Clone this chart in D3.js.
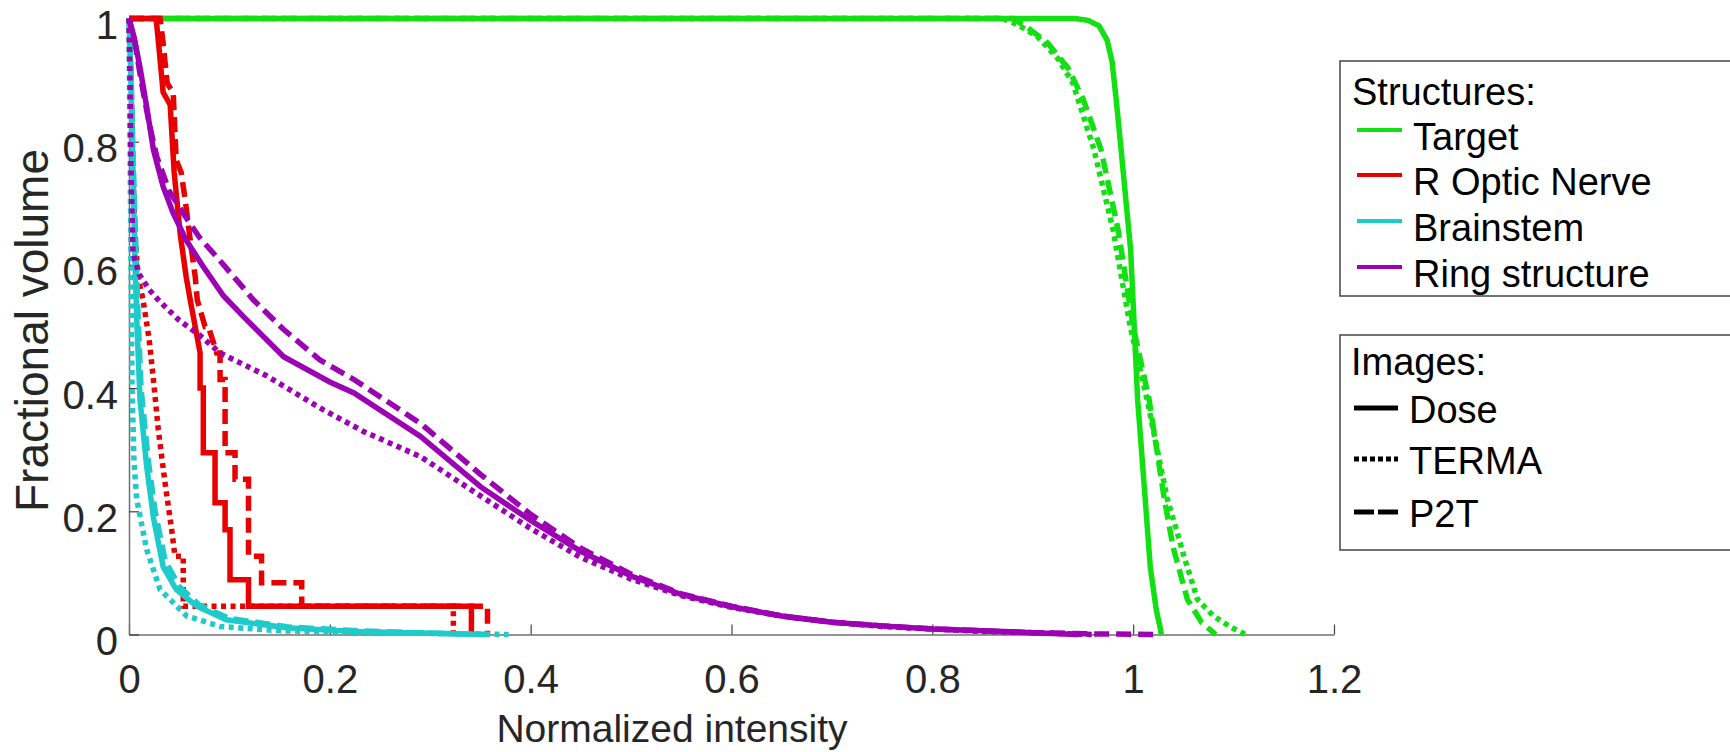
<!DOCTYPE html>
<html>
<head>
<meta charset="utf-8">
<script src="https://cdn.jsdelivr.net/npm/d3@7"></script>
<style>
    body { margin: 0; background: #fff; }
    svg { font-family: "Liberation Sans", Arial, sans-serif; }
    .tick text { fill: #262626; }
</style>
</head>
<body>
<svg id="chart" width="1730" height="752"></svg>
<script>
// tick values and legend text
let xTicks = [0, 0.2, 0.4, 0.6, 0.8, 1, 1.2];
let yTicks = [0, 0.2, 0.4, 0.6, 0.8, 1];
let structures = ["Target", "R Optic Nerve", "Brainstem", "Ring structure"];
let images = ["Dose", "TERMA", "P2T"];

// DVH curves, [normalized intensity, fractional volume]
let targetDose = [[0,1],[0.942,1],[0.955,0.997],[0.966,0.988],[0.974,0.965],[0.979,0.93],[0.983,0.87],
    [0.988,0.787],[0.9975,0.624],[1.0045,0.38],[1.012,0.22],[1.017,0.11],[1.023,0.04],[1.027,0.01],[1.028,0]];
let targetTerma = [[0,1],[0.87,1],[0.885,0.99],[0.905,0.97],[0.925,0.935],[0.94,0.895],[0.961,0.787],
    [0.98,0.657],[0.997,0.5],[1.014,0.38],[1.034,0.22],[1.044,0.165],[1.05,0.13],[1.064,0.057],
    [1.08,0.03],[1.097,0.012],[1.112,0]];
let targetP2T = [[0,1],[0.88,1],[0.895,0.985],[0.915,0.96],[0.935,0.92],[0.95,0.87],[0.968,0.787],
    [0.985,0.657],[1.0,0.5],[1.016,0.38],[1.031,0.22],[1.04,0.14],[1.054,0.057],[1.068,0.02],[1.082,0]];

let nerveDose = [[0,1],[0.027,1],[0.03,0.95],[0.034,0.88],[0.041,0.86],[0.045,0.75],[0.051,0.65],
    [0.057,0.58],[0.061,0.543],[0.0708,0.457],[0.0708,0.40],[0.074,0.40],[0.074,0.295],[0.0857,0.295],
    [0.0857,0.214],[0.0957,0.214],[0.0957,0.17],[0.1006,0.17],[0.1006,0.089],[0.119,0.089],
    [0.119,0.046],[0.341,0.046],[0.341,0]];
let nerveTerma = [[0,1],[0.002,0.9],[0.004,0.75],[0.006,0.65],[0.009,0.58],[0.014,0.543],[0.02,0.48],
    [0.0243,0.414],[0.0292,0.332],[0.0359,0.246],[0.0425,0.17],[0.0458,0.127],[0.054,0.127],
    [0.054,0.046],[0.323,0.046],[0.323,0]];
let nerveP2T = [[0,1],[0.031,1],[0.034,0.96],[0.038,0.895],[0.044,0.88],[0.047,0.77],[0.052,0.75],
    [0.056,0.705],[0.061,0.64],[0.066,0.58],[0.068,0.543],[0.0757,0.5],[0.079,0.5],[0.0874,0.457],
    [0.0907,0.457],[0.0907,0.414],[0.0957,0.414],[0.0957,0.295],[0.1056,0.295],[0.1056,0.252],
    [0.119,0.252],[0.119,0.127],[0.132,0.127],[0.132,0.084],[0.172,0.084],[0.172,0.046],
    [0.357,0.046],[0.357,0]];

let brainDose = [[0,1],[0.002,0.9],[0.004,0.75],[0.006,0.6],[0.008,0.5],[0.011,0.38],[0.0176,0.273],
    [0.0243,0.19],[0.034,0.11],[0.047,0.073],[0.0674,0.046],[0.097,0.024],[0.157,0.011],
    [0.224,0.005],[0.3,0.002],[0.357,0]];
let brainTerma = [[0,1],[0.001,0.8],[0.002,0.6],[0.003,0.4],[0.005,0.28],[0.0076,0.22],[0.0176,0.138],
    [0.0309,0.073],[0.0575,0.03],[0.091,0.013],[0.15,0.006],[0.25,0.003],[0.378,0]];
let brainP2T = [[0,1],[0.002,0.92],[0.004,0.78],[0.007,0.62],[0.009,0.52],[0.012,0.4],[0.019,0.285],
    [0.026,0.2],[0.036,0.12],[0.05,0.078],[0.07,0.048],[0.1,0.026],[0.16,0.012],[0.23,0.006],
    [0.3,0.002],[0.355,0]];

let ringDose = [[0,1],[0.005,0.97],[0.011,0.92],[0.0176,0.857],[0.0243,0.787],[0.034,0.727],
    [0.044,0.684],[0.057,0.64],[0.074,0.597],[0.094,0.55],[0.114,0.516],[0.154,0.451],[0.2,0.41],
    [0.224,0.392],[0.29,0.322],[0.35,0.24],[0.4,0.185],[0.45,0.135],[0.5,0.095],[0.55,0.065],
    [0.6,0.045],[0.65,0.03],[0.7,0.02],[0.75,0.014],[0.8,0.009],[0.85,0.006],[0.9,0.003],[0.945,0]];
let ringTerma = [[0,1],[0.001,0.9],[0.002,0.75],[0.004,0.62],[0.01,0.585],[0.02,0.56],[0.031,0.54],
    [0.05,0.51],[0.071,0.485],[0.0907,0.457],[0.137,0.42],[0.19,0.368],[0.233,0.33],[0.29,0.289],
    [0.35,0.225],[0.4,0.172],[0.45,0.125],[0.5,0.09],[0.55,0.063],[0.6,0.044],[0.65,0.03],
    [0.7,0.02],[0.75,0.013],[0.8,0.009],[0.85,0.005],[0.9,0.003],[0.96,0]];
let ringP2T = [[0,1],[0.006,0.96],[0.012,0.9],[0.02,0.83],[0.0276,0.776],[0.04,0.72],[0.054,0.684],
    [0.07,0.645],[0.09,0.608],[0.11,0.57],[0.124,0.543],[0.154,0.495],[0.19,0.446],[0.224,0.414],
    [0.29,0.343],[0.35,0.26],[0.4,0.195],[0.45,0.14],[0.5,0.098],[0.55,0.066],[0.6,0.046],
    [0.65,0.03],[0.7,0.02],[0.75,0.014],[0.8,0.009],[0.85,0.006],[0.9,0.003],[0.96,0.001],[1.027,0]];

// styling
let colors = {"Target": "#12e012", "R Optic Nerve": "#e80000", "Brainstem": "#1fcaca", "Ring structure": "#9c02b4"};
let dashes = {"Dose": null, "TERMA": "5,4.5", "P2T": "15,7"};

let curves = [
    {s: "Target", img: "Dose", data: targetDose},
    {s: "Target", img: "TERMA", data: targetTerma},
    {s: "Target", img: "P2T", data: targetP2T},
    {s: "R Optic Nerve", img: "Dose", data: nerveDose},
    {s: "R Optic Nerve", img: "TERMA", data: nerveTerma},
    {s: "R Optic Nerve", img: "P2T", data: nerveP2T},
    {s: "Brainstem", img: "Dose", data: brainDose},
    {s: "Brainstem", img: "TERMA", data: brainTerma},
    {s: "Brainstem", img: "P2T", data: brainP2T},
    {s: "Ring structure", img: "Dose", data: ringDose},
    {s: "Ring structure", img: "TERMA", data: ringTerma},
    {s: "Ring structure", img: "P2T", data: ringP2T}
];

let svg = d3.select("#chart");

let x = d3.scaleLinear().domain([0, 1.2]).range([129, 1334]);
let y = d3.scaleLinear().domain([0, 1]).range([634.5, 18.5]);

let fmt = d => d3.format("~g")(d);

// axes, MATLAB style ticks pointing inward
let xAxis = svg.append("g")
    .attr("transform", "translate(0," + y(0) + ")")
    .call(d3.axisBottom(x).tickValues(xTicks).tickFormat(fmt).tickSizeInner(-10).tickSizeOuter(0).tickPadding(30));
let yAxis = svg.append("g")
    .attr("transform", "translate(" + x(0) + ",0)")
    .call(d3.axisLeft(y).tickValues(yTicks).tickFormat(fmt).tickSizeInner(-10).tickSizeOuter(0).tickPadding(11));

[xAxis, yAxis].forEach(a => {
    a.select(".domain").attr("stroke", "#707070").attr("stroke-width", 1.5);
    a.selectAll(".tick line").attr("stroke", "#404040").attr("stroke-width", 1.2);
    a.selectAll(".tick text").attr("font-size", 40).attr("font-family", null);
});
yAxis.selectAll(".tick text").attr("dy", "0.5em");

// the curves
let line = d3.line().x(d => x(d[0])).y(d => y(d[1]));

svg.append("g").selectAll("path")
    .data(curves)
    .enter()
    .append("path")
    .attr("d", d => line(d.data))
    .attr("fill", "none")
    .attr("stroke", d => colors[d.s])
    .attr("stroke-width", 5.5)
    .attr("stroke-dasharray", d => dashes[d.img]);

// axis labels
svg.append("text")
    .attr("x", 672).attr("y", 742)
    .attr("text-anchor", "middle")
    .attr("font-size", 39)
    .attr("fill", "#262626")
    .text("Normalized intensity");

svg.append("text")
    .attr("transform", "translate(48," + (y(0.5) + 4) + ") rotate(-90)")
    .attr("text-anchor", "middle")
    .attr("font-size", 46)
    .attr("fill", "#262626")
    .text("Fractional volume");

// legend boxes
let legend = svg.append("g");

legend.append("rect")
    .attr("x", 1340).attr("y", 61).attr("width", 420).attr("height", 235)
    .attr("fill", "#fff").attr("stroke", "#444").attr("stroke-width", 1.5);
legend.append("rect")
    .attr("x", 1340).attr("y", 335).attr("width", 420).attr("height", 215)
    .attr("fill", "#fff").attr("stroke", "#444").attr("stroke-width", 1.5);

legend.append("text")
    .attr("x", 1352).attr("y", 105)
    .attr("font-size", 38)
    .text("Structures:");

let structBase = [150, 195, 241, 287];
structures.forEach((s, i) => {
    legend.append("line")
        .attr("x1", 1357).attr("x2", 1402)
        .attr("y1", structBase[i] - 20).attr("y2", structBase[i] - 20)
        .attr("stroke", colors[s]).attr("stroke-width", 4);
    legend.append("text")
        .attr("x", 1413).attr("y", structBase[i])
        .attr("font-size", 38)
        .text(s);
});

legend.append("text")
    .attr("x", 1351).attr("y", 375)
    .attr("font-size", 38)
    .text("Images:");

let imgBase = [423, 474, 527];
images.forEach((m, i) => {
    legend.append("line")
        .attr("x1", 1354).attr("x2", 1398)
        .attr("y1", imgBase[i] - 15).attr("y2", imgBase[i] - 15)
        .attr("stroke", "#000").attr("stroke-width", 5)
        .attr("stroke-dasharray", m == "TERMA" ? "5,3" : (m == "P2T" ? "20,4" : null));
    legend.append("text")
        .attr("x", 1409).attr("y", imgBase[i])
        .attr("font-size", 38)
        .text(m);
});
</script>
</body>
</html>
